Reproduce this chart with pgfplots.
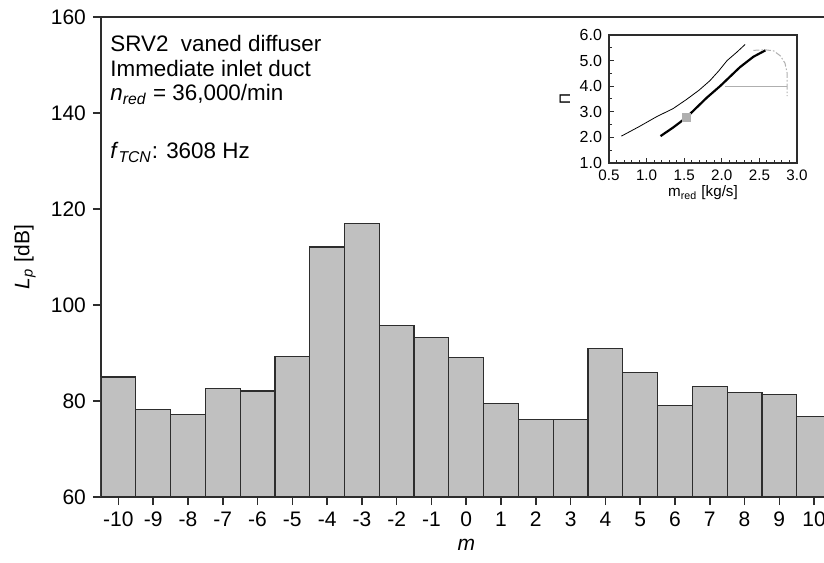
\documentclass[border=0pt]{standalone}
\usepackage{fontspec}
\setmainfont{Liberation Sans}
\usepackage{pgfplots}
\pgfplotsset{compat=1.18}
\definecolor{barfill}{RGB}{192,192,192}
\definecolor{axcol}{RGB}{45,45,45}
\definecolor{insetgray}{RGB}{175,175,175}
\pgfplotstableread{
m Lp
-10 85.0
-9 78.3
-8 77.2
-7 82.6
-6 82.1
-5 89.2
-4 112.1
-3 117.0
-2 95.7
-1 93.2
0 89.1
1 79.4
2 76.2
3 76.1
4 90.9
5 86.0
6 79.1
7 83.1
8 81.7
9 81.3
10 76.8
}\spl
\begin{document}
\begin{tikzpicture}
\begin{axis}[
  scale only axis, width=365.25pt, height=240pt,
  xmin=-10.5, xmax=10.5, ymin=60, ymax=160,
  xtick={-10,-9,...,10},
  xticklabels={-10,-9,-8,-7,-6,-5,-4,-3,-2,-1,0,1,2,3,4,5,6,7,8,9,10},
  ytick={60,80,...,160},
  tick align=outside, tick pos=left,
  major tick length=4pt,
  axis line style={axcol, line width=0.8pt},
  tick style={axcol, line width=0.8pt},
  /pgf/number format/assume math mode=true,
  tick label style={font=\fontsize{10.5}{12}\selectfont},
  label style={font=\fontsize{10.5}{12}\selectfont},
  xlabel={\textit{m}},
  ylabel={\textit{L}\textsubscript{\textit{p}} [dB]},
  xlabel style={at={(axis description cs:0.5,-0.1)}, anchor=center},
  ylabel style={at={(axis description cs:-0.104,0.5)}, anchor=center},
  ybar, bar width=1, bar shift=0pt,
]
\addplot[fill=barfill, draw=axcol, line width=0.6pt] table[x=m,y=Lp]{\spl};
\coordinate (sw) at (rel axis cs:0,0);
\coordinate (ne) at (rel axis cs:1,1);
\begin{scope}[every node/.style={anchor=base west, inner sep=0pt, font=\fontsize{11.2}{13}\selectfont}]
\node at (rel axis cs:0.0123,0.929) {SRV2\ \ vaned diffuser};
\node at (rel axis cs:0.0123,0.877) {Immediate inlet duct};
\node at (rel axis cs:0.0123,0.825) {\textit{n}\textsubscript{\textit{red}} = 36,000/min};
\node at (rel axis cs:0.0123,0.7042) {\textit{f}\textsubscript{\textit{TCN}}: 3608 Hz};
\end{scope}
\end{axis}
\begin{axis}[
  at={(254pt,167pt)}, anchor=south west,
  scale only axis, width=94pt, height=64pt,
  xmin=0.5, xmax=3, ymin=1, ymax=6,
  xtick={0.5,1.0,1.5,2.0,2.5,3.0},
  ytick={1,2,3,4,5,6},
  minor x tick num=4, minor y tick num=1,
  tick align=inside, tick pos=left,
  major tick length=2.5pt, minor tick length=1.5pt,
  axis line style={axcol, line width=0.6pt},
  tick style={axcol, line width=0.5pt},
  /pgf/number format/assume math mode=true,
  /pgf/number format/fixed, /pgf/number format/fixed zerofill, /pgf/number format/precision=1,
  xticklabel style={font=\fontsize{7.6}{8.5}\selectfont},
  yticklabel style={font=\fontsize{8}{9}\selectfont},
  label style={font=\fontsize{7.6}{8.5}\selectfont},
  xlabel={m\textsubscript{red} [kg/s]},
  ylabel={Π},
  xlabel style={at={(axis description cs:0.5,-0.234)}, anchor=center},
  ylabel style={at={(axis description cs:-0.235,0.5)}, anchor=center},
]
\addplot[black, line width=0.4pt] coordinates {(0.665,2.05) (0.9,2.42) (1.14,2.82) (1.35,3.12) (1.53,3.48) (1.7,3.85) (1.84,4.21) (1.96,4.6) (2.07,5.0) (2.2,5.33) (2.31,5.63)};
\addplot[black, line width=1.1pt] coordinates {(1.185,2.05) (1.35,2.38) (1.53,2.78) (1.8,3.55) (1.98,4.01) (2.24,4.74) (2.42,5.15) (2.58,5.40)};
\addplot[insetgray, line width=0.5pt] coordinates {(2.04,4.0) (2.87,4.0)};
\addplot[insetgray, line width=0.5pt, dash pattern=on 3pt off 1pt on 0.8pt off 1pt] coordinates {(2.42,5.40) (2.58,5.42) (2.69,5.38) (2.78,5.18) (2.84,4.9) (2.87,4.5) (2.87,4.0) (2.87,3.61)};
\addplot[only marks, mark=square*, mark size=2pt, mark options={fill=insetgray, draw=insetgray}] coordinates {(1.53,2.78)};
\end{axis}
\pgfresetboundingbox
\path[use as bounding box] ([xshift=-50.5pt,yshift=-32.5pt]sw) rectangle ([xshift=-3.75pt,yshift=8.5pt]ne);
\end{tikzpicture}
\end{document}
